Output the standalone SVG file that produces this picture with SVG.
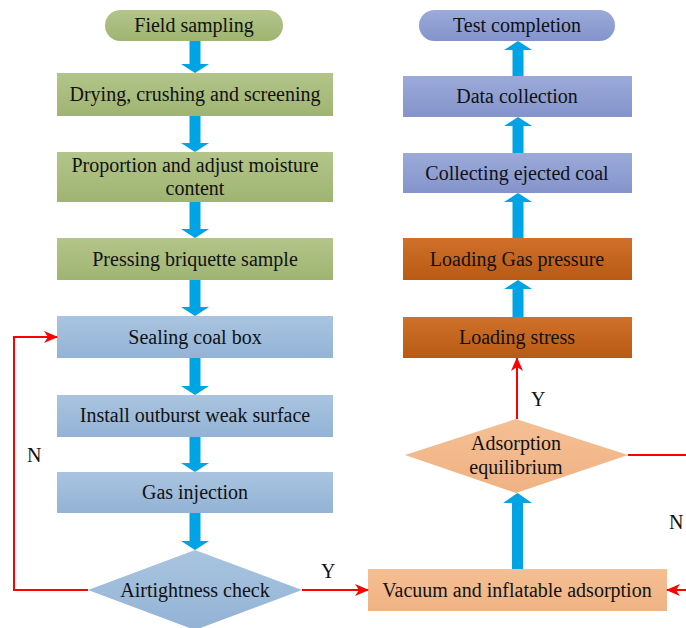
<svg xmlns="http://www.w3.org/2000/svg" width="686" height="628" viewBox="0 0 686 628">
<defs>
<linearGradient id="gGreen" x1="0" y1="0" x2="0" y2="1"><stop offset="0" stop-color="#B3C58A"/><stop offset="1" stop-color="#9FB472"/></linearGradient>
<linearGradient id="gBlue" x1="0" y1="0" x2="0" y2="1"><stop offset="0" stop-color="#A9C4E0"/><stop offset="1" stop-color="#93B3D5"/></linearGradient>
<linearGradient id="gPurple" x1="0" y1="0" x2="0" y2="1"><stop offset="0" stop-color="#9BAAD9"/><stop offset="1" stop-color="#8494CB"/></linearGradient>
<linearGradient id="gBrown" x1="0" y1="0" x2="0" y2="1"><stop offset="0" stop-color="#D0702A"/><stop offset="1" stop-color="#B85B15"/></linearGradient>
<linearGradient id="gPeach" x1="0" y1="0" x2="0" y2="1"><stop offset="0" stop-color="#F5BF93"/><stop offset="1" stop-color="#EFB283"/></linearGradient>
<marker id="redArrow" viewBox="0 0 14 12" refX="13" refY="6" markerWidth="14" markerHeight="12" markerUnits="userSpaceOnUse" orient="auto">
<path d="M0,0 L14,6 L0,12 L4,6 Z" fill="#FF0000"/>
</marker>
</defs>
<style>
text{font-family:"Liberation Serif","Times New Roman",serif;font-size:20px;fill:#111;text-anchor:middle}
.red{stroke:#FF0000;stroke-width:2;fill:none}
.blue{fill:#00A3E3}
.lbl{text-anchor:start}
</style>
<rect width="686" height="628" fill="#FFFFFF"/>

<g id="field-sampling"><rect x="105" y="10" width="178" height="31" rx="15.5" fill="url(#gGreen)"/><text x="194" y="32">Field sampling</text></g>
<g id="drying"><rect x="57" y="73" width="276" height="43" fill="url(#gGreen)"/><text x="195" y="101">Drying, crushing and screening</text></g>
<g id="proportion"><rect x="57" y="152" width="276" height="50" fill="url(#gGreen)"/><text x="195" y="172">Proportion and adjust moisture</text><text x="195" y="195">content</text></g>
<g id="pressing"><rect x="57" y="238" width="276" height="42" fill="url(#gGreen)"/><text x="195" y="266">Pressing briquette sample</text></g>
<g id="sealing"><rect x="57" y="316" width="276" height="42" fill="url(#gBlue)"/><text x="195" y="344">Sealing coal box</text></g>
<g id="install"><rect x="57" y="395" width="276" height="42" fill="url(#gBlue)"/><text x="195" y="422">Install outburst weak surface</text></g>
<g id="gas-injection"><rect x="57" y="472" width="276" height="41" fill="url(#gBlue)"/><text x="195" y="499">Gas injection</text></g>
<g id="airtightness"><path d="M195,550 L302,590 L195,630 L88,590 Z" fill="url(#gBlue)"/><text x="195" y="597">Airtightness check</text></g>

<g id="test-completion"><rect x="419" y="10" width="196" height="31" rx="15.5" fill="url(#gPurple)"/><text x="517" y="32">Test completion</text></g>
<g id="data-collection"><rect x="403" y="76" width="229" height="41" fill="url(#gPurple)"/><text x="517" y="103">Data collection</text></g>
<g id="collecting"><rect x="403" y="153" width="229" height="40" fill="url(#gPurple)"/><text x="517" y="180">Collecting ejected coal</text></g>
<g id="loading-gas"><rect x="403" y="238" width="229" height="42" fill="url(#gBrown)"/><text x="517" y="266">Loading Gas pressure</text></g>
<g id="loading-stress"><rect x="403" y="317" width="229" height="41" fill="url(#gBrown)"/><text x="517" y="344">Loading stress</text></g>
<g id="adsorption"><path d="M516,419 L628,455 L516,493 L405,455 Z" fill="url(#gPeach)"/><text x="516" y="450">Adsorption</text><text x="516" y="474">equilibrium</text></g>
<g id="vacuum"><rect x="368" y="569" width="299" height="42" fill="url(#gPeach)"/><text x="517" y="597">Vacuum and inflatable adsorption</text></g>

<g id="connectors">
<path class="blue" d="M189.5,41 H200.5 V64 H209 L195,73 L181,64 H189.5 Z"/>
<path class="blue" d="M189.5,116 H200.5 V143 H209 L195,152 L181,143 H189.5 Z"/>
<path class="blue" d="M189.5,202 H200.5 V229 H209 L195,238 L181,229 H189.5 Z"/>
<path class="blue" d="M189.5,280 H200.5 V307 H209 L195,316 L181,307 H189.5 Z"/>
<path class="blue" d="M189.5,358 H200.5 V386 H209 L195,395 L181,386 H189.5 Z"/>
<path class="blue" d="M189.5,437 H200.5 V463 H209 L195,472 L181,463 H189.5 Z"/>
<path class="blue" d="M189.5,513 H200.5 V541 H209 L195,550 L181,541 H189.5 Z"/>

<path class="blue" d="M512.5,76 H523.5 V50 H532 L518,41 L504,50 H512.5 Z"/>
<path class="blue" d="M512.5,153 H523.5 V126 H532 L518,117 L504,126 H512.5 Z"/>
<path class="blue" d="M512.5,238 H523.5 V202 H532 L518,193 L504,202 H512.5 Z"/>
<path class="blue" d="M512.5,317 H523.5 V289 H532 L518,280 L504,289 H512.5 Z"/>
<path class="blue" d="M512,569 H523 V503 H532 L517.5,493 L503,503 H512 Z"/>

<path class="red" d="M88,590 H14 V337 H57" marker-end="url(#redArrow)"/>
<path class="red" d="M302,590 H368" marker-end="url(#redArrow)"/>
<path class="red" d="M517,419 V358" marker-end="url(#redArrow)"/>
<path class="red" d="M628,455 H690"/>
<path class="red" d="M690,590 H667" marker-end="url(#redArrow)"/>
<text class="lbl" x="27" y="462">N</text>
<text class="lbl" x="321" y="578">Y</text>
<text class="lbl" x="531" y="406">Y</text>
<text class="lbl" x="669" y="529">N</text>
</g>
</svg>
